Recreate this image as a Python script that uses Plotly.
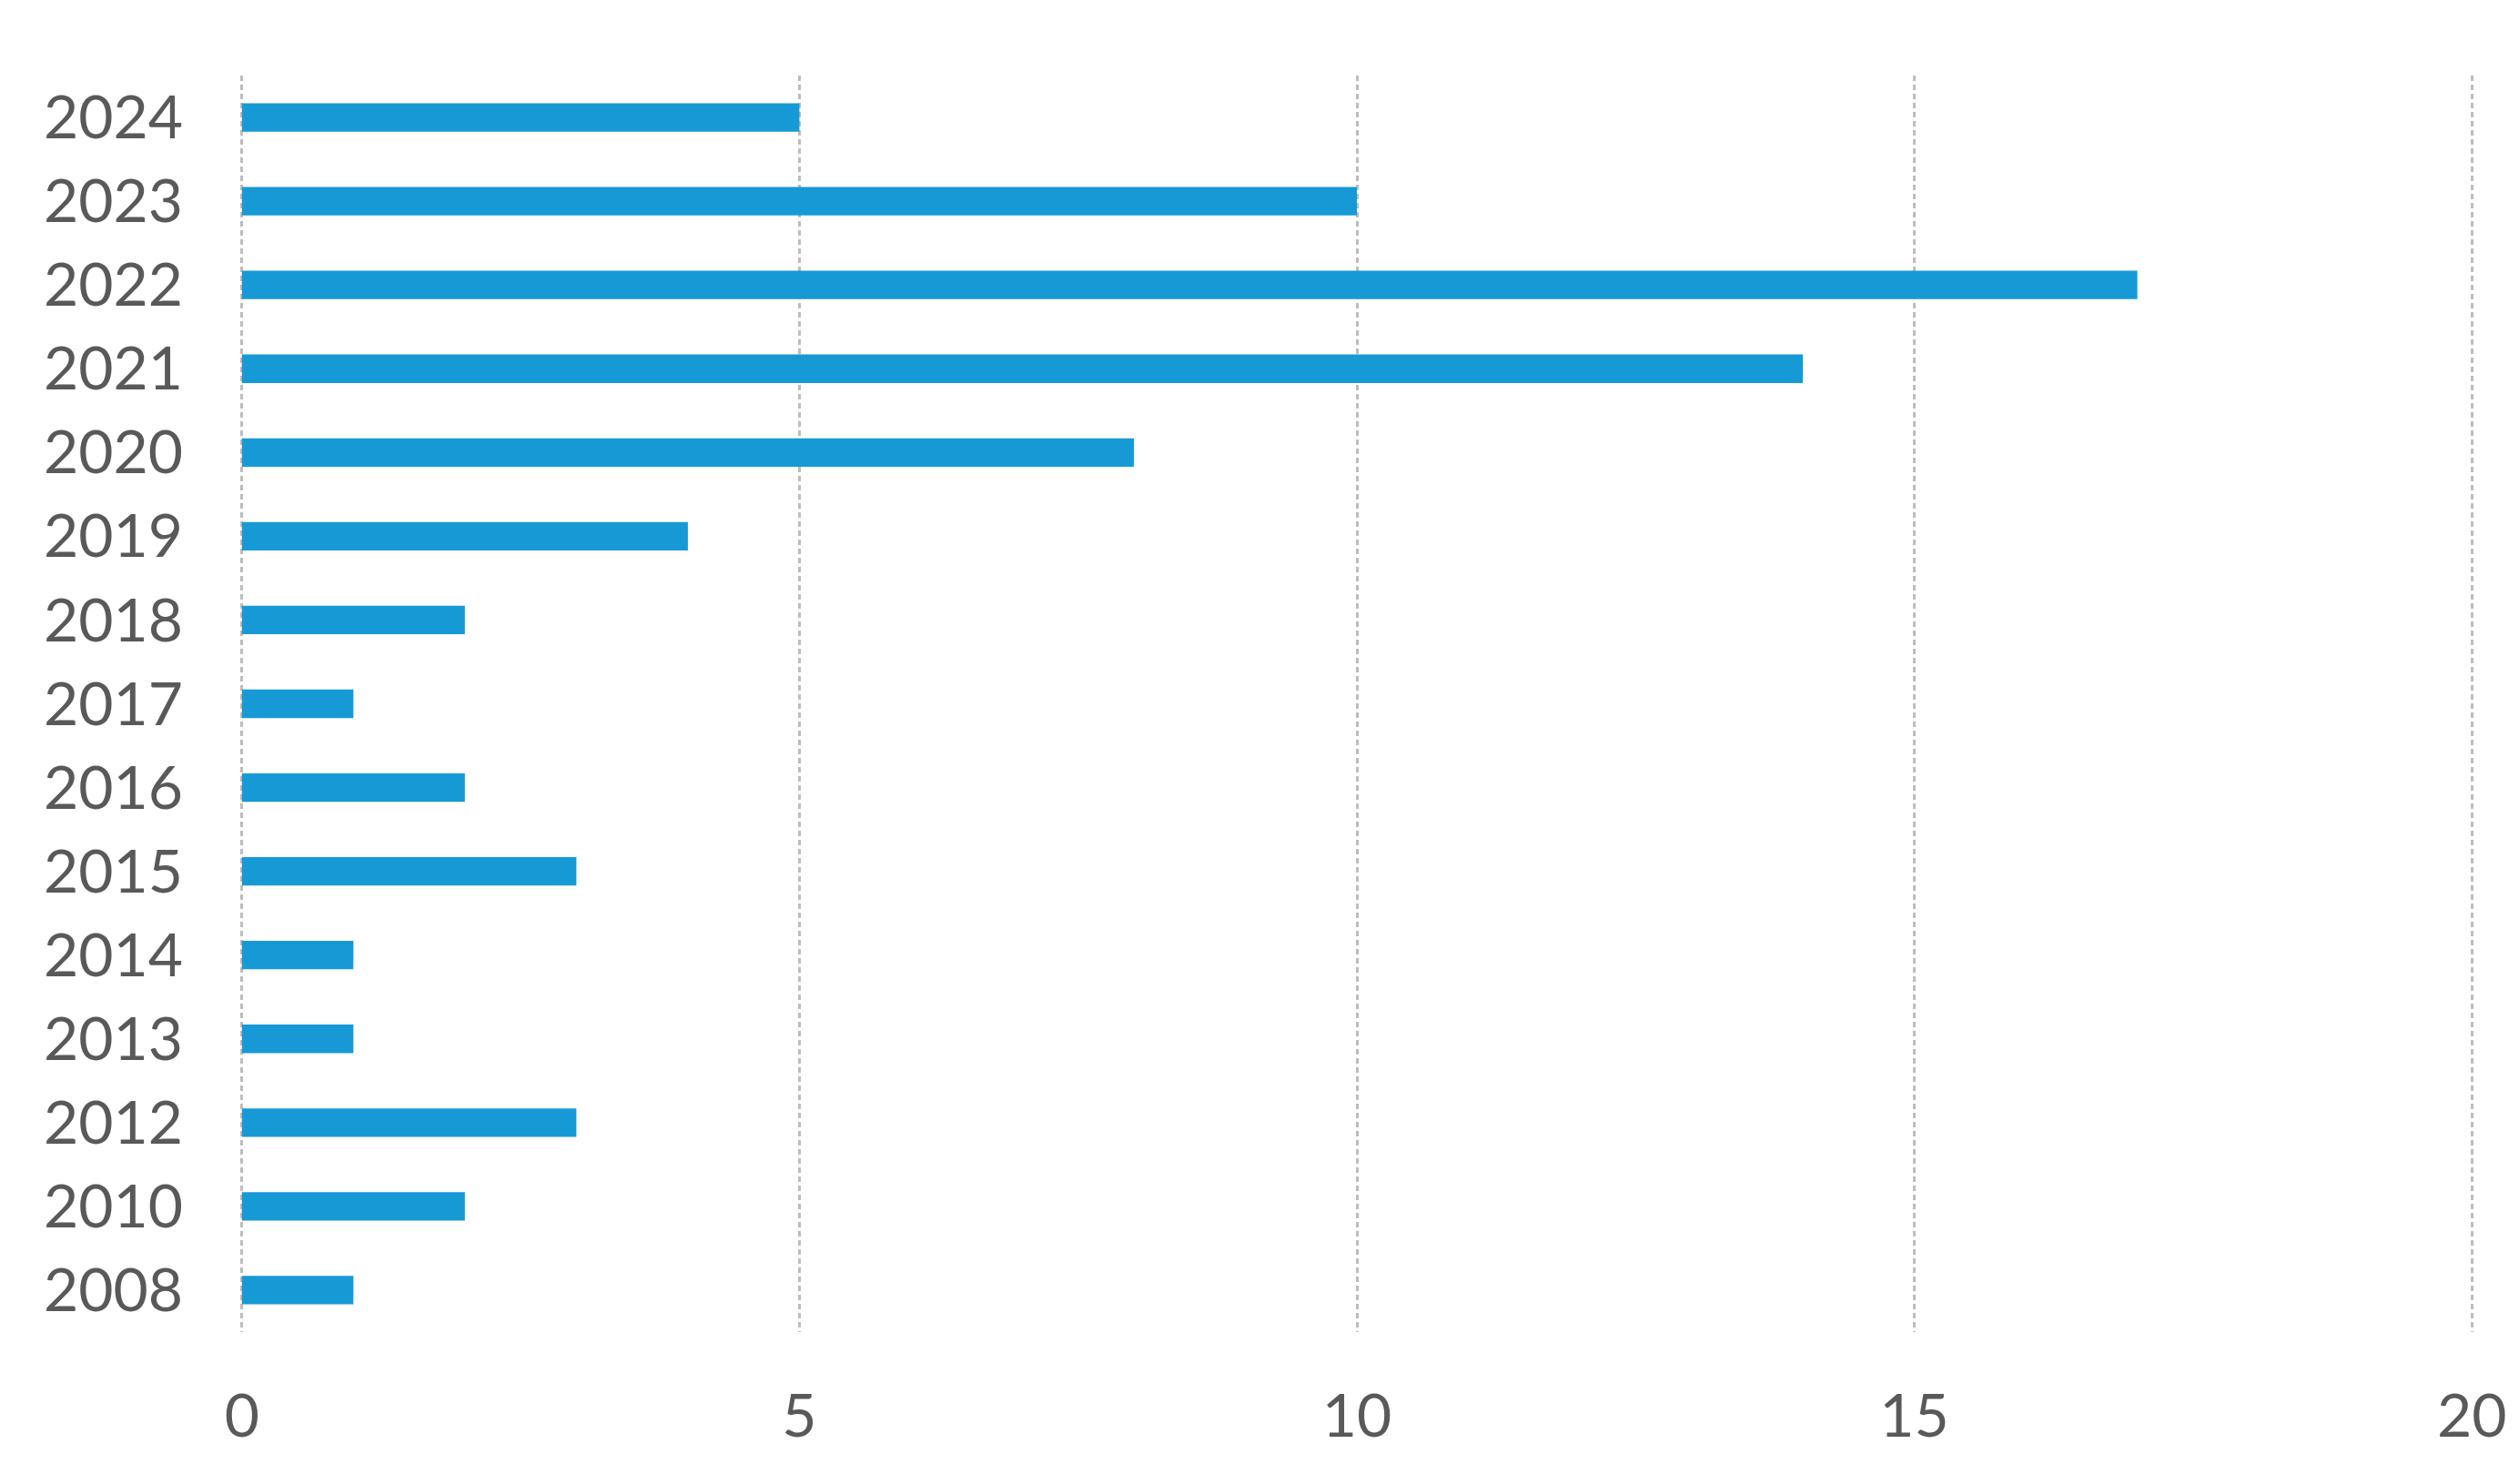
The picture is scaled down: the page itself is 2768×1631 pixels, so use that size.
import plotly.graph_objects as go

years = ["2024", "2023", "2022", "2021", "2020", "2019", "2018", "2017",
         "2016", "2015", "2014", "2013", "2012", "2010", "2008"]
counts = [5, 10, 17, 14, 8, 4, 2, 1, 2, 3, 1, 1, 3, 2, 1]
x_ticks = [0, 5, 10, 15, 20]

BAR = "#1799D6"
TXT = "#595959"
GRID = "#BDBDBD"
FONT = "Lato"

fig = go.Figure(go.Bar(
    x=counts, y=years, orientation="h",
    marker=dict(color=BAR, line=dict(width=0)),
    width=0.34,
))

fig.update_layout(
    width=2768, height=1631,
    margin=dict(l=248, r=50, t=75, b=175),
    paper_bgcolor="white", plot_bgcolor="white",
    showlegend=False,
    font=dict(family=FONT, color=TXT, size=66),
    xaxis=dict(
        range=[-0.08, 20.08], tickvals=x_ticks, ticktext=[str(v) for v in x_ticks],
        showgrid=True, gridcolor=GRID, gridwidth=3, griddash="6px,4px",
        zeroline=False, showline=False, ticks="",
        ticklabelstandoff=48,
        tickfont=dict(family=FONT, size=66, color=TXT),
    ),
    yaxis=dict(
        categoryorder="array", categoryarray=years[::-1],
        range=[-0.5, len(years) - 0.5],
        showgrid=False, zeroline=False, showline=False, ticks="",
        ticklabelstandoff=54,
        tickfont=dict(family=FONT, size=66, color=TXT),
    ),
)

fig.write_html("out.html")
